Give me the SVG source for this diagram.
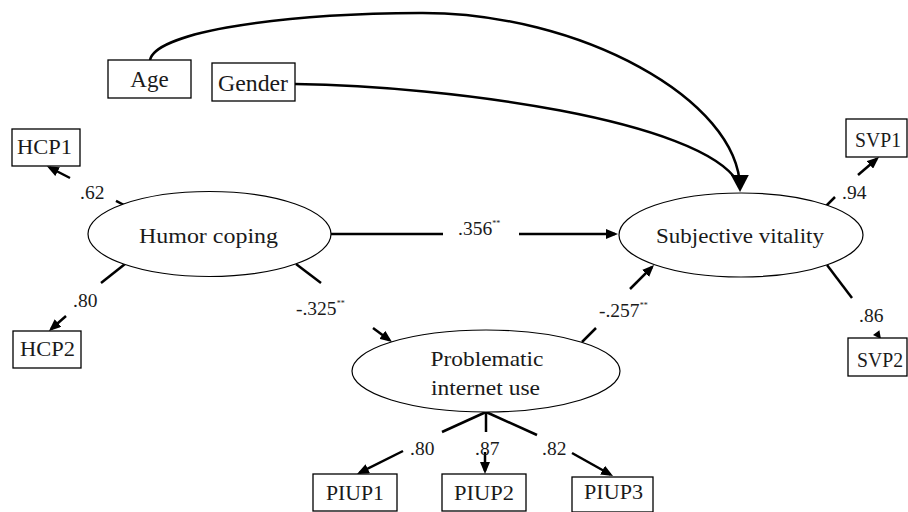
<svg xmlns="http://www.w3.org/2000/svg" width="908" height="512" viewBox="0 0 908 512">
  <style>
    .box { fill: #fff; stroke: #000; stroke-width: 1.3; }
    .lat { fill: #fff; stroke: #000; stroke-width: 1.2; }
    .lbl { font-family: "Liberation Serif", "Times New Roman", serif; fill: #1a1a1a; text-anchor: middle; }
    .cf { font-family: "Liberation Serif", "Times New Roman", serif; fill: #1a1a1a; font-size: 19.5px; }
    .st { font-size: 8px; }
    .edge { fill: none; stroke: #000; stroke-width: 2.5; }
    .arr { marker-end: url(#head); }
  </style>
  <defs>
    <marker id="head" viewBox="0 0 12 10" refX="9" refY="5" markerWidth="12" markerHeight="10" markerUnits="userSpaceOnUse" orient="auto">
      <path d="M0,0 L12,5 L0,10 z" fill="#000"/>
    </marker>
    <marker id="bighead" viewBox="0 0 17 18" refX="13" refY="9" markerWidth="17" markerHeight="18" markerUnits="userSpaceOnUse" orient="auto">
      <path d="M0,0 L17,9 L0,18 z" fill="#000"/>
    </marker>
  </defs>

  <!-- connectors -->
  <g id="connectors">
    <!-- covariates to Subjective vitality -->
    <path class="edge" d="M150,60 C155,35 260,14 420,13 C580,12 739,100 740,188" marker-end="url(#bighead)"/>
    <path class="edge" d="M295,84 C450,86 700,120 738,182"/>

    <!-- Humor coping indicators -->
    <line class="edge" x1="124" y1="205" x2="116" y2="200.8"/>
    <line class="edge arr" x1="70" y1="178" x2="49.6" y2="167.5"/>
    <line class="edge" x1="125" y1="264" x2="101" y2="283"/>
    <line class="edge arr" x1="66" y1="316" x2="51.2" y2="329"/>

    <!-- structural paths -->
    <line class="edge" x1="296" y1="264" x2="321" y2="283"/>
    <line class="edge arr" x1="373" y1="328" x2="389.6" y2="340.2"/>
    <line class="edge" x1="331" y1="234" x2="443" y2="234"/>
    <line class="edge arr" x1="519" y1="234" x2="615" y2="234"/>
    <line class="edge" x1="582" y1="342" x2="596" y2="328"/>
    <line class="edge arr" x1="630" y1="289" x2="651.9" y2="267.1"/>

    <!-- Subjective vitality indicators -->
    <line class="edge" x1="826" y1="206" x2="835" y2="197"/>
    <line class="edge arr" x1="858" y1="175" x2="876.7" y2="159"/>
    <line class="edge" x1="827" y1="265" x2="852" y2="298"/>
    <path d="M881,339 L873,335 L879.4,330.2 z" fill="#000"/>

    <!-- Problematic internet use indicators -->
    <line class="edge" x1="486" y1="412" x2="442" y2="432"/>
    <line class="edge arr" x1="403" y1="451" x2="359.7" y2="472.7"/>
    <line class="edge" x1="486" y1="412" x2="486" y2="432"/>
    <line class="edge arr" x1="485" y1="452" x2="485" y2="471"/>
    <line class="edge" x1="486" y1="412" x2="537" y2="435"/>
    <line class="edge arr" x1="572" y1="453" x2="610.4" y2="474.5"/>
  </g>

  <!-- path coefficients -->
  <g id="coefficients">
    <text class="cf" x="80" y="199">.62</text>
    <text class="cf" x="73" y="307">.80</text>
    <text class="cf" x="296" y="315">-.325<tspan class="st" dy="-9">**</tspan></text>
    <text class="cf" x="458" y="235">.356<tspan class="st" dy="-9">**</tspan></text>
    <text class="cf" x="599" y="317">-.257<tspan class="st" dy="-9">**</tspan></text>
    <text class="cf" x="842" y="199">.94</text>
    <text class="cf" x="859" y="322">.86</text>
    <text class="cf" x="410" y="455">.80</text>
    <text class="cf" x="475" y="455">.87</text>
    <text class="cf" x="542" y="455">.82</text>
  </g>

  <!-- observed covariates -->
  <g id="age">
    <rect class="box" x="108" y="60" width="83" height="38"/>
    <text class="lbl" x="149.5" y="87" font-size="23">Age</text>
  </g>
  <g id="gender">
    <rect class="box" x="212" y="63" width="83" height="38"/>
    <text class="lbl" x="253" y="90.5" font-size="23" textLength="70" lengthAdjust="spacingAndGlyphs">Gender</text>
  </g>

  <!-- Humor coping -->
  <g id="hcp1">
    <rect class="box" x="12" y="129" width="68" height="37"/>
    <text class="lbl" x="44.5" y="154" font-size="20" textLength="55" lengthAdjust="spacingAndGlyphs">HCP1</text>
  </g>
  <g id="hcp2">
    <rect class="box" x="13" y="331" width="68" height="37"/>
    <text class="lbl" x="47.5" y="356" font-size="20" textLength="55" lengthAdjust="spacingAndGlyphs">HCP2</text>
  </g>
  <g id="humor-coping">
    <ellipse class="lat" cx="209.5" cy="234" rx="121.5" ry="42.5"/>
    <text class="lbl" x="208.5" y="243" font-size="22" textLength="139" lengthAdjust="spacingAndGlyphs">Humor coping</text>
  </g>

  <!-- Subjective vitality -->
  <g id="subjective-vitality">
    <ellipse class="lat" cx="741" cy="235" rx="122" ry="42"/>
    <text class="lbl" x="740" y="243" font-size="22" textLength="168" lengthAdjust="spacingAndGlyphs">Subjective vitality</text>
  </g>
  <g id="svp1">
    <rect class="box" x="846" y="119" width="61" height="38"/>
    <text class="lbl" x="878" y="147" font-size="20" textLength="46" lengthAdjust="spacingAndGlyphs">SVP1</text>
  </g>
  <g id="svp2">
    <rect class="box" x="848" y="338" width="59" height="38"/>
    <text class="lbl" x="880" y="367" font-size="20" textLength="46" lengthAdjust="spacingAndGlyphs">SVP2</text>
  </g>

  <!-- Problematic internet use -->
  <g id="problematic-internet-use">
    <ellipse class="lat" cx="486" cy="371" rx="134" ry="41"/>
    <text class="lbl" x="487" y="366" font-size="22" textLength="113" lengthAdjust="spacingAndGlyphs">Problematic</text>
    <text class="lbl" x="485.5" y="395" font-size="22" textLength="109" lengthAdjust="spacingAndGlyphs">internet use</text>
  </g>
  <g id="piup1">
    <rect class="box" x="313" y="474" width="84" height="37"/>
    <text class="lbl" x="355" y="500" font-size="20" textLength="58" lengthAdjust="spacingAndGlyphs">PIUP1</text>
  </g>
  <g id="piup2">
    <rect class="box" x="442" y="474" width="84" height="37"/>
    <text class="lbl" x="484" y="500" font-size="20" textLength="60" lengthAdjust="spacingAndGlyphs">PIUP2</text>
  </g>
  <g id="piup3">
    <rect class="box" x="572" y="477" width="81" height="35"/>
    <text class="lbl" x="613.5" y="499" font-size="20" textLength="59" lengthAdjust="spacingAndGlyphs">PIUP3</text>
  </g>
</svg>
